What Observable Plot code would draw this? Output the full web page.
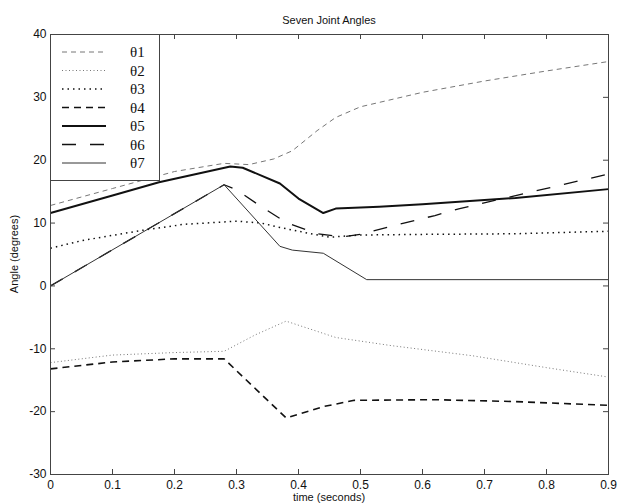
<!DOCTYPE html>
<html>
<head>
<meta charset="utf-8">
<script src="https://cdn.jsdelivr.net/npm/d3@7"></script>
<script src="https://cdn.jsdelivr.net/npm/@observablehq/plot@0.6"></script>
<style>
  html, body { margin: 0; padding: 0; background: #fff; }
  #wrap { position: relative; width: 619px; height: 504px; font-family: "Liberation Sans", Arial, sans-serif; }
  .lbl { position: absolute; font-size: 11px; color: #111; white-space: nowrap; }
  #legend { position: absolute; left: 50px; top: 34px; width: 108px; height: 145px; background: #fff; border: 1px solid #444; }
</style>
</head>
<body>
<div id="wrap"></div>
<script>
// ---- data ----
const seriesNames = ["θ1", "θ2", "θ3", "θ4", "θ5", "θ6", "θ7"];
const xTicks = [0, 0.1, 0.2, 0.3, 0.4, 0.5, 0.6, 0.7, 0.8, 0.9];
const yTicks = [-30, -20, -10, 0, 10, 20, 30, 40];

const time1  = [0, 0.1, 0.2, 0.28, 0.32, 0.36, 0.39, 0.43, 0.46, 0.5, 0.6, 0.7, 0.8, 0.9];
const angle1 = [12.8, 15.5, 18.2, 19.5, 19.3, 20.2, 21.5, 24.7, 26.8, 28.5, 30.8, 32.6, 34.2, 35.7];

const time2  = [0, 0.1, 0.2, 0.28, 0.33, 0.38, 0.46, 0.55, 0.68, 0.8, 0.9];
const angle2 = [-12.2, -11.0, -10.6, -10.4, -7.8, -5.6, -8.2, -9.5, -11.1, -13.0, -14.5];

const time3  = [0, 0.05, 0.145, 0.215, 0.3, 0.34, 0.37, 0.425, 0.45, 0.5, 0.6, 0.75, 0.9];
const angle3 = [6.0, 7.2, 8.8, 9.8, 10.3, 10.0, 9.3, 8.2, 7.75, 8.1, 8.2, 8.3, 8.7];

const time4  = [0, 0.1, 0.2, 0.28, 0.38, 0.44, 0.49, 0.62, 0.75, 0.9];
const angle4 = [-13.2, -12.1, -11.6, -11.6, -21.0, -19.2, -18.2, -18.1, -18.4, -19.0];

const time5  = [0, 0.1, 0.175, 0.29, 0.31, 0.37, 0.4, 0.44, 0.46, 0.53, 0.6, 0.75, 0.9];
const angle5 = [11.6, 14.4, 16.5, 19.0, 18.8, 16.3, 13.9, 11.6, 12.3, 12.6, 13.0, 14.0, 15.4];

const time6  = [0, 0.28, 0.3, 0.34, 0.38, 0.43, 0.47, 0.5, 0.57, 0.62, 0.66, 0.9];
const angle6 = [0, 16.1, 15.3, 12.6, 10.1, 8.3, 7.8, 8.2, 10.0, 11.2, 12.3, 17.8];

const time7  = [0, 0.28, 0.37, 0.39, 0.44, 0.51, 0.9];
const angle7 = [0, 16.1, 6.3, 5.7, 5.2, 1.0, 1.0];

// ---- styles ----
const styles = {
  "θ1": {stroke: "#777", strokeWidth: 1, strokeDasharray: "5,4"},
  "θ2": {stroke: "#777", strokeWidth: 1, strokeDasharray: "1,2.5"},
  "θ3": {stroke: "#111", strokeWidth: 1.5, strokeDasharray: "1.5,4"},
  "θ4": {stroke: "#111", strokeWidth: 1.6, strokeDasharray: "7,5"},
  "θ5": {stroke: "#111", strokeWidth: 2, strokeDasharray: null},
  "θ6": {stroke: "#111", strokeWidth: 1.3, strokeDasharray: "14,14"},
  "θ7": {stroke: "#333", strokeWidth: 1, strokeDasharray: null}
};

const pairs = [[time1, angle1], [time2, angle2], [time3, angle3], [time4, angle4], [time5, angle5], [time6, angle6], [time7, angle7]];
const rows = [];
pairs.forEach(([ts, vs], i) => ts.forEach((t, j) => rows.push({series: seriesNames[i], t, v: vs[j]})));

const W = 619, H = 504, mT = 34, mB = 30, mL = 50, mR = 11;
const plotW = W - mL - mR, plotH = H - mT - mB;
const fmt = d => String(+(+d).toFixed(1));
const tickColor = "#444";

const chart = Plot.plot({
  width: W, height: H,
  marginTop: mT, marginBottom: mB, marginLeft: mL, marginRight: mR,
  style: {fontFamily: "'Liberation Sans', Arial, sans-serif", fontSize: "12px", background: "white", color: "#111"},
  x: {domain: [0, 0.9]},
  y: {domain: [-30, 40]},
  marks: [
    ...seriesNames.map(s => Plot.line(rows.filter(r => r.series === s), {
      x: "t", y: "v", strokeLinejoin: "round", strokeLinecap: "butt", ...styles[s]
    })),
    Plot.tickX(xTicks, {x: d => d, insetTop: plotH - 5, stroke: tickColor}),
    Plot.tickX(xTicks, {x: d => d, insetBottom: plotH - 5, stroke: tickColor}),
    Plot.tickY(yTicks, {y: d => d, insetRight: plotW - 5, stroke: tickColor}),
    Plot.tickY(yTicks, {y: d => d, insetLeft: plotW - 5, stroke: tickColor}),
    Plot.frame({stroke: tickColor}),
    Plot.axisX({ticks: xTicks, tickSize: 0, tickPadding: 6, tickFormat: fmt, label: null}),
    Plot.axisY({ticks: yTicks, tickSize: 0, tickPadding: 4, tickFormat: d => String(d), label: null})
  ]
});

const wrap = document.getElementById("wrap");
wrap.appendChild(chart);

function addLabel(text, x, y, rotate) {
  const d = document.createElement("div");
  d.className = "lbl";
  d.textContent = text;
  d.style.left = x + "px";
  d.style.top = y + "px";
  d.style.transform = "translate(-50%, -50%)" + (rotate ? " rotate(-90deg)" : "");
  wrap.appendChild(d);
}
addLabel("Seven Joint Angles", mL + plotW / 2, 20);
addLabel("time (seconds)", mL + plotW / 2, 497);
addLabel("Angle (degrees)", 14, mT + plotH / 2, true);

// legend
const legend = document.createElement("div");
legend.id = "legend";
const ns = "http://www.w3.org/2000/svg";
const lsvg = document.createElementNS(ns, "svg");
lsvg.setAttribute("width", 108);
lsvg.setAttribute("height", 145);
seriesNames.forEach((s, i) => {
  const y = 17 + i * 18.5;
  const ln = document.createElementNS(ns, "line");
  ln.setAttribute("x1", 11); ln.setAttribute("x2", 55);
  ln.setAttribute("y1", y); ln.setAttribute("y2", y);
  ln.setAttribute("stroke", styles[s].stroke);
  ln.setAttribute("stroke-width", styles[s].strokeWidth);
  if (styles[s].strokeDasharray) ln.setAttribute("stroke-dasharray", styles[s].strokeDasharray);
  lsvg.appendChild(ln);
  const tx = document.createElementNS(ns, "text");
  tx.setAttribute("x", 79); tx.setAttribute("y", y);
  tx.setAttribute("dy", "0.35em");
  tx.setAttribute("font-family", "'Liberation Serif', 'Times New Roman', serif");
  tx.setAttribute("font-size", "15px");
  tx.setAttribute("fill", "#111");
  tx.textContent = s;
  lsvg.appendChild(tx);
});
legend.appendChild(lsvg);
wrap.appendChild(legend);
</script>
</body>
</html>
